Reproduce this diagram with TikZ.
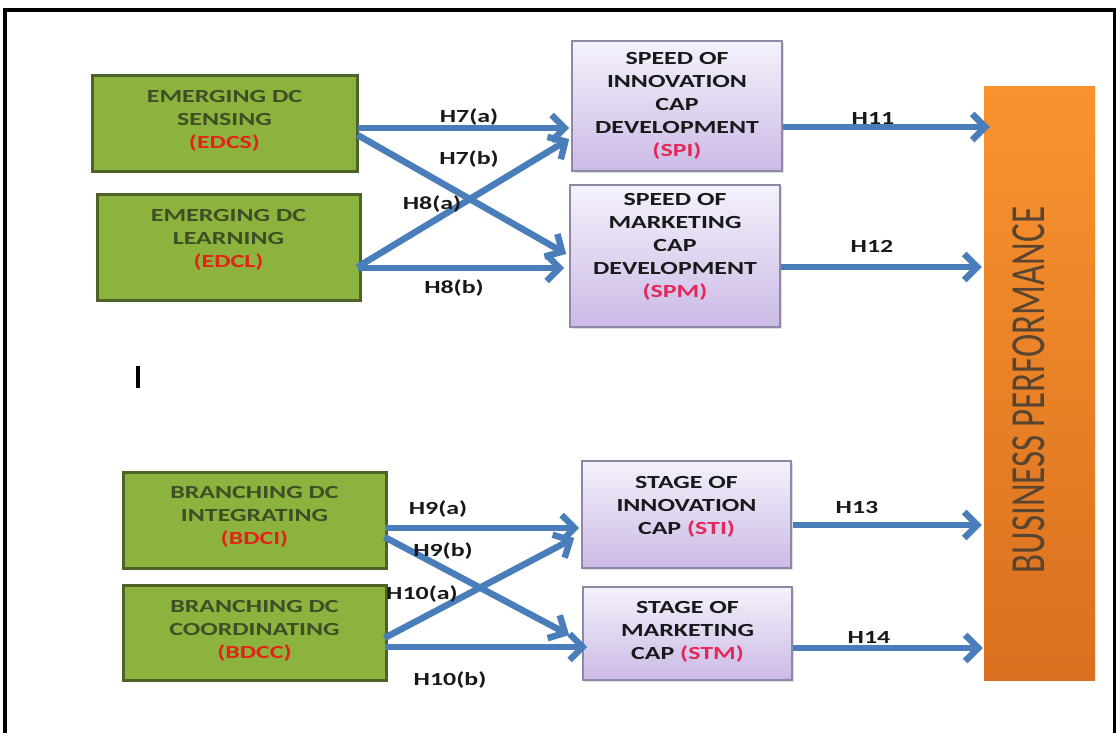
\documentclass[tikz,border=0pt]{standalone}
\usepackage{fontspec}
\setmainfont{Carlito}[FakeStretch=1.4]
\newfontfamily\bpfont{Carlito}
\usetikzlibrary{arrows.meta,calc,shadows}
\definecolor{gfill}{HTML}{8DB33F}
\definecolor{gborder}{HTML}{4F6228}
\definecolor{gtext}{HTML}{3E4F26}
\definecolor{gred}{HTML}{E2231A}
\definecolor{ptop}{HTML}{F5F1FB}
\definecolor{pbot}{HTML}{CBBAE6}
\definecolor{pborder}{HTML}{8C88A6}
\definecolor{pred}{HTML}{E3285A}
\definecolor{otop}{HTML}{F9932F}
\definecolor{obot}{HTML}{D9701F}
\definecolor{otext}{HTML}{59442F}
\definecolor{arrblue}{HTML}{4A7EBB}
\tikzset{
  gbox/.style={draw=gborder, line width=3pt, fill=gfill, inner sep=0pt},
  pbox/.style={draw=pborder, line width=1.6pt, top color=ptop, bottom color=pbot, inner sep=0pt,
    drop shadow={shadow xshift=2pt, shadow yshift=-2pt, opacity=0.25}},
  gtxt/.style={text=gtext, font=\bfseries\fontsize{18.5}{23}\selectfont, align=center, inner sep=0pt},
  ptxt/.style={text=black!90, font=\bfseries\fontsize{18.5}{23}\selectfont, align=center, inner sep=0pt},
  hlab/.style={text=black!90, font=\bfseries\fontsize{18.5}{22}\selectfont, inner sep=0pt},
  arr/.style={draw=arrblue, line width=6.5pt, -{Straight Barb[length=13pt,width=26pt]}}
}
\begin{document}
\begin{tikzpicture}[x=1pt,y=-1pt]
\useasboundingbox (0,0) rectangle (1117,733);
% frame
\fill[black] (3,8) rectangle (1116,12);
\fill[black] (3,8) rectangle (7,733);
\fill[black] (1113,8) rectangle (1116,733);
% cursor mark
\fill[black] (136,366) rectangle (140,388);

% green boxes
\node[gbox, minimum width=265pt, minimum height=96pt] (edcs) at (224.5,124) {};
\node[gbox, minimum width=263pt, minimum height=105pt] (edcl) at (228.5,247.5) {};
\node[gbox, minimum width=263pt, minimum height=96pt] (bdci) at (254.5,520) {};
\node[gbox, minimum width=263pt, minimum height=95pt] (bdcc) at (254.5,632.5) {};
\node[gtxt] (edcsT) at (224.5,121) {EMERGING DC\\SENSING\\\textcolor{gred}{(EDCS)}};
\node[gtxt] (edclT) at (228.5,240) {EMERGING DC\\LEARNING\\\textcolor{gred}{(EDCL)}};
\node[gtxt] (bdciT) at (254.5,517) {BRANCHING DC\\INTEGRATING\\\textcolor{gred}{(BDCI)}};
\node[gtxt] (bdccT) at (254.5,631) {BRANCHING DC\\COORDINATING\\\textcolor{gred}{(BDCC)}};

% purple boxes
\node[pbox, minimum width=210pt, minimum height=130pt] (spi) at (677,106) {};
\node[pbox, minimum width=210pt, minimum height=142pt] (spm) at (675,256) {};
\node[pbox, minimum width=209pt, minimum height=107pt] (sti) at (686.5,514.5) {};
\node[pbox, minimum width=209pt, minimum height=93pt] (stm) at (687.5,633.5) {};
\node[ptxt] (spiT) at (677,106) {SPEED OF\\INNOVATION\\CAP\\DEVELOPMENT\\\textcolor{pred}{(SPI)}};
\node[ptxt] (spmT) at (675,247) {SPEED OF\\MARKETING\\CAP\\DEVELOPMENT\\\textcolor{pred}{(SPM)}};
\node[ptxt] (stiT) at (686.5,506.5) {STAGE OF\\INNOVATION\\CAP \textcolor{pred}{(STI)}};
\node[ptxt] (stmT) at (687.5,632) {STAGE OF\\MARKETING\\CAP \textcolor{pred}{(STM)}};

% business performance
\node[draw=none, top color=otop, bottom color=obot, minimum width=111pt, minimum height=593pt, inner sep=0pt] (bp) at (1039.5,383.5) {};
\node[rotate=90, text=otext, font=\bpfont\fontsize{35}{40}\selectfont, inner sep=0pt] (bpT) at (1029,390) {\scalebox{1}[1.4]{BUSINESS PERFORMANCE}};

% arrows top
\draw[arr] ($(edcs.east)+(-1,4)$) -- ($(spi.west)+(-2,22)$);
\draw[arr] ($(edcs.east)+(-1,11)$) -- ($(spm.west)+(-3,-2)$);
\draw[arr] ($(edcl.east)+(-4,19.5)$) -- ($(spi.west)+(-2,33)$);
\draw[arr] ($(edcl.east)+(-4,20.5)$) -- ($(spm.west)+(-5,12)$);
\draw[arr] ($(spi.east)+(0,21)$) -- ($(bp.west)+(6,-256.5)$);
\draw[arr] ($(spm.east)+(0,11)$) -- ($(bp.west)+(-2,-116.5)$);
% arrows bottom
\draw[arr] ($(bdci.east)+(-3,8)$) -- ($(sti.west)+(-2,13.5)$);
\draw[arr] ($(bdci.east)+(-3,17)$) -- ($(stm.west)+(-13,1.5)$);
\draw[arr] ($(bdcc.east)+(-3,5.5)$) -- ($(sti.west)+(-7,23.5)$);
\draw[arr] ($(bdcc.east)+(-3,14.5)$) -- ($(stm.west)+(5,13.5)$);
\draw[arr] ($(sti.east)+(1,10.5)$) -- ($(bp.west)+(-2,141.5)$);
\draw[arr] ($(stm.east)+(0,14.5)$) -- ($(bp.west)+(-1,264.5)$);

% labels
\node[hlab] (l7a) at (469,117) {H7(a)};
\node[hlab] (l7b) at (469,159) {H7(b)};
\node[hlab] (l8a) at (432,204) {H8(a)};
\node[hlab] (l8b) at (454,288) {H8(b)};
\node[hlab] (l9a) at (438,509) {H9(a)};
\node[hlab] (l9b) at (443,551) {H9(b)};
\node[hlab] (l10a) at (422,594) {H10(a)};
\node[hlab] (l10b) at (450,680) {H10(b)};
\node[hlab] (l11) at (873,118) {H11};
\node[hlab] (l12) at (872,246) {H12};
\node[hlab] (l13) at (857,507) {H13};
\node[hlab] (l14) at (869,637) {H14};
\end{tikzpicture}
\end{document}
